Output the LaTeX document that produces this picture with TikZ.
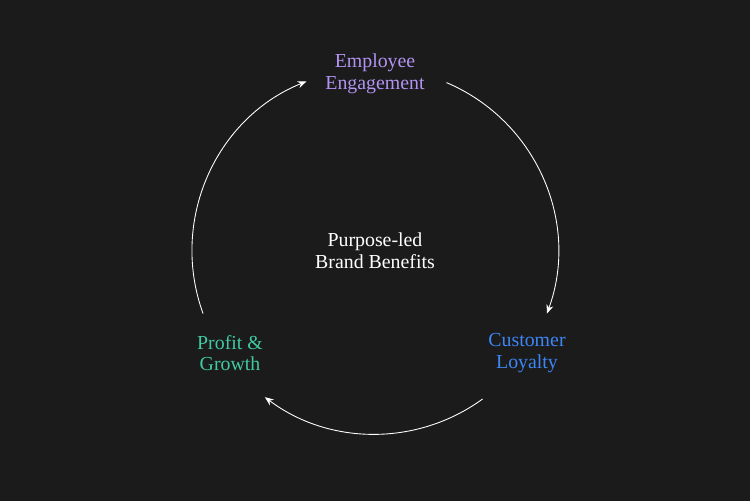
\documentclass[tikz,border=0pt]{standalone}
\usepackage{fontspec}
\setmainfont{Liberation Serif}
\usetikzlibrary{arrows.meta,calc}
\definecolor{bg}{HTML}{1B1B1B}
\definecolor{empcol}{HTML}{B393F2}
\definecolor{custcol}{HTML}{3D86F5}
\definecolor{profcol}{HTML}{41C9A2}
\tikzset{
  label text/.style={align=center, font=\fontsize{11.3}{12.3}\selectfont},
  cycle arc/.style={white, line width=0.5pt, -{Stealth[length=5pt,width=4pt]}}
}
\begin{document}
\begin{tikzpicture}[x=0.02cm, y=-0.02cm]
  \fill[bg] (0,0) rectangle (750,501);
  \node[label text, white]   (C) at (375,251) {Purpose-led\\Brand Benefits};
  \node[label text, empcol]  (E) at (375,74)  {Employee\\Engagement};
  \node[label text, custcol] (L) at (527,353) {Customer\\Loyalty};
  \node[label text, profcol] (P) at (230,353) {Profit \&\\Growth};
  % arcs around the centre
  \coordinate (a1) at ($(C)+(67:3.66cm)$);
  \coordinate (a2) at ($(C)+(-54:3.66cm)$);
  \coordinate (a3) at ($(C)+(200:3.66cm)$);
  \draw[cycle arc] (a1) arc[start angle=67, end angle=-20, radius=3.66cm];
  \draw[cycle arc] (a2) arc[start angle=-54, end angle=-127, radius=3.66cm];
  \draw[cycle arc] (a3) arc[start angle=200, end angle=112, radius=3.66cm];
\end{tikzpicture}
\end{document}
